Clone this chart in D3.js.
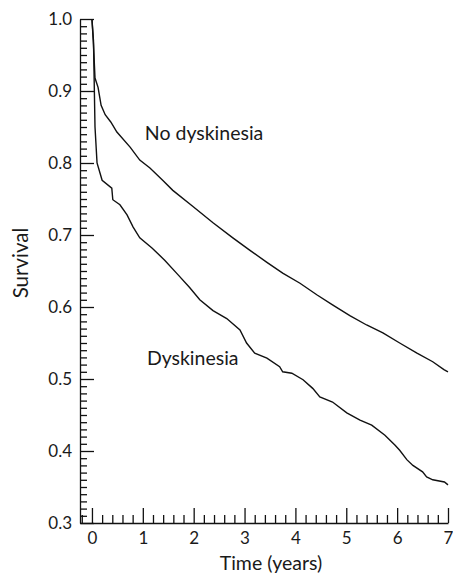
<!DOCTYPE html>
<html>
<head>
  <meta charset="utf-8">
  <title>survival curves</title>
  <script src="https://cdnjs.cloudflare.com/ajax/libs/d3/7.8.5/d3.min.js"></script>
</head>
<style>
  body { margin: 0; background: #fff; }
  svg { display: block; }
  text { font-family: Lato, "Noto Sans", sans-serif; fill: #1a1a1a; }
</style>
<body>
<svg id="svg" width="453" height="578"></svg>
<script type="text/javascript">
  // values: [time in years, survival]
  const noDyskinesia = [
    [0, 1.0], [0.03, 0.965], [0.06, 0.918], [0.12, 0.905], [0.18, 0.88],
    [0.26, 0.867], [0.37, 0.857], [0.49, 0.843], [0.75, 0.822], [0.94, 0.804],
    [1.14, 0.793], [1.39, 0.776], [1.59, 0.762], [1.98, 0.740], [2.38, 0.717],
    [2.77, 0.696], [3.10, 0.679], [3.44, 0.662], [3.75, 0.647], [4.09, 0.633],
    [4.42, 0.617], [4.73, 0.603], [5.07, 0.588], [5.40, 0.575], [5.72, 0.564],
    [6.05, 0.550], [6.39, 0.536], [6.70, 0.524], [6.92, 0.513], [7.0, 0.510]
  ];
  const dyskinesia = [
    [0, 1.0], [0.03, 0.97], [0.06, 0.85], [0.10, 0.80], [0.20, 0.776],
    [0.39, 0.765], [0.41, 0.749], [0.55, 0.742], [0.69, 0.728], [0.81, 0.711],
    [0.94, 0.696], [1.18, 0.682], [1.43, 0.665], [1.69, 0.645], [1.92, 0.627],
    [2.12, 0.610], [2.38, 0.595], [2.65, 0.584], [2.91, 0.568], [3.04, 0.550],
    [3.20, 0.536], [3.44, 0.529], [3.69, 0.517], [3.75, 0.510], [3.93, 0.508],
    [4.15, 0.499], [4.34, 0.487], [4.48, 0.475], [4.73, 0.468], [5.01, 0.453],
    [5.27, 0.443], [5.50, 0.436], [5.76, 0.422], [5.96, 0.408], [6.05, 0.401],
    [6.19, 0.388], [6.31, 0.380], [6.50, 0.371], [6.58, 0.364], [6.70, 0.360],
    [6.93, 0.357], [7.0, 0.353]
  ];
  const xTicks = [0, 1, 2, 3, 4, 5, 6, 7];
  const yTicks = [0.3, 0.4, 0.5, 0.6, 0.7, 0.8, 0.9, 1.0];
  const curveLabels = [
    { text: 'No dyskinesia', t: 1.04, s: 0.832 },
    { text: 'Dyskinesia', t: 1.08, s: 0.519 }
  ];

  const svg = d3.select('svg');
  const xScale = d3.scaleLinear().domain([-0.235, 7]).range([80, 448]);
  const yScale = d3.scaleLinear().domain([0.3, 1.0]).range([523, 19]);

  // minor ticks first, majors drawn over them
  const xMinor = d3.range(-1, 36).map(d => d / 5).filter(d => !xTicks.includes(d));
  const yMinor = d3.range(30, 101).map(d => d / 100).filter(d => Math.round(d * 100) % 10 !== 0);

  svg.append('g').attr('transform', 'translate(0,523)')
    .call(d3.axisBottom(xScale).tickValues(xMinor).tickSize(-8).tickFormat(''))
    .call(g => g.select('.domain').remove());
  svg.append('g').attr('transform', 'translate(80,0)')
    .call(d3.axisLeft(yScale).tickValues(yMinor).tickSize(-7).tickFormat(''))
    .call(g => g.select('.domain').remove());

  const xAxis = d3.axisBottom(xScale).tickValues(xTicks).tickSize(-15).tickSizeOuter(0)
    .tickPadding(9).tickFormat(d3.format('d'));
  const yAxis = d3.axisLeft(yScale).tickValues(yTicks).tickSize(-14).tickSizeOuter(0)
    .tickPadding(8).tickFormat(d3.format('.1f'));

  svg.append('g').attr('id', 'xAxisG').attr('transform', 'translate(0,523)').call(xAxis);
  svg.append('g').attr('id', 'yAxisG').attr('transform', 'translate(80,0)').call(yAxis);

  svg.selectAll('.tick line, .domain').attr('stroke', '#111').attr('stroke-width', 1.3);
  svg.selectAll('.tick text').attr('font-size', 17).attr('fill', '#1a1a1a')
    .attr('font-family', 'Lato, "Noto Sans", sans-serif');

  const line = d3.line().x(d => xScale(d[0])).y(d => yScale(d[1]));
  svg.selectAll('path.curve')
    .data([noDyskinesia, dyskinesia])
    .enter()
    .append('path')
    .attr('class', 'curve')
    .attr('fill', 'none')
    .attr('stroke', '#111')
    .attr('stroke-width', 1.4)
    .attr('d', line);

  svg.selectAll('text.lab')
    .data(curveLabels)
    .enter()
    .append('text')
    .attr('class', 'lab')
    .attr('x', d => xScale(d.t))
    .attr('y', d => yScale(d.s))
    .attr('font-size', 19.5)
    .text(d => d.text);

  svg.append('text').attr('x', 271).attr('y', 570)
    .attr('text-anchor', 'middle').attr('font-size', 19.5).text('Time (years)');
  svg.append('text').attr('transform', 'translate(28,263) rotate(-90)')
    .attr('text-anchor', 'middle').attr('font-size', 20.5).text('Survival');
</script>
</body>
</html>
